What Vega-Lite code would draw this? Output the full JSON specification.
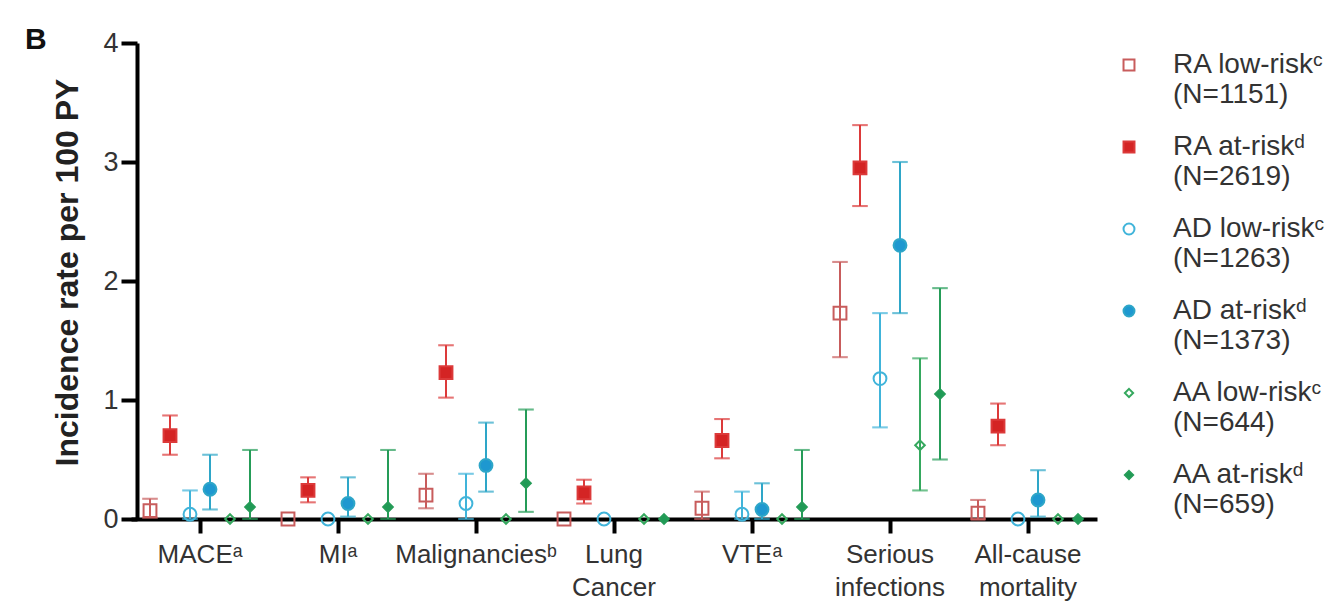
{
  "$schema": "https://vega.github.io/schema/vega-lite/v6.json",
  "width": 966,
  "height": 476,
  "autosize": {"type": "none"},
  "padding": {"left": 131, "top": 43, "right": 240, "bottom": 83},
  "background": "white",
  "config": {
    "font": "Liberation Sans",
    "view": {"stroke": null},
    "legend": {
      "orient": "none", "legendX": 984, "legendY": 8, "title": null,
      "labelFontSize": 28, "labelColor": "#333", "symbolSize": 120, "symbolStrokeWidth": 2, "symbolOpacity": 1,
      "rowPadding": 24, "labelOffset": 30, "labelLimit": 300, "labelLineHeight": 31
    }
  },
  "title": {"text": "B", "anchor": "start", "frame": "group", "fontSize": 30, "fontWeight": "bold", "color": "#111", "dx": -106, "offset": -26},
  "datasets": {
    "rates": [
      {"cat": "MACEᵃ", "series": "RA low-riskᶜ (N=1151)", "rate": 0.07, "lo": 0.01, "hi": 0.17},
      {"cat": "MACEᵃ", "series": "RA at-riskᵈ (N=2619)", "rate": 0.70, "lo": 0.54, "hi": 0.87},
      {"cat": "MACEᵃ", "series": "AD low-riskᶜ (N=1263)", "rate": 0.04, "lo": 0.0, "hi": 0.24},
      {"cat": "MACEᵃ", "series": "AD at-riskᵈ (N=1373)", "rate": 0.25, "lo": 0.08, "hi": 0.54},
      {"cat": "MACEᵃ", "series": "AA low-riskᶜ (N=644)", "rate": 0, "lo": 0, "hi": 0},
      {"cat": "MACEᵃ", "series": "AA at-riskᵈ (N=659)", "rate": 0.10, "lo": 0.0, "hi": 0.58},
      {"cat": "MIᵃ", "series": "RA low-riskᶜ (N=1151)", "rate": 0, "lo": 0, "hi": 0},
      {"cat": "MIᵃ", "series": "RA at-riskᵈ (N=2619)", "rate": 0.24, "lo": 0.14, "hi": 0.35},
      {"cat": "MIᵃ", "series": "AD low-riskᶜ (N=1263)", "rate": 0, "lo": 0, "hi": 0},
      {"cat": "MIᵃ", "series": "AD at-riskᵈ (N=1373)", "rate": 0.13, "lo": 0.02, "hi": 0.35},
      {"cat": "MIᵃ", "series": "AA low-riskᶜ (N=644)", "rate": 0, "lo": 0, "hi": 0},
      {"cat": "MIᵃ", "series": "AA at-riskᵈ (N=659)", "rate": 0.10, "lo": 0.0, "hi": 0.58},
      {"cat": "Malignanciesᵇ", "series": "RA low-riskᶜ (N=1151)", "rate": 0.20, "lo": 0.09, "hi": 0.38},
      {"cat": "Malignanciesᵇ", "series": "RA at-riskᵈ (N=2619)", "rate": 1.23, "lo": 1.02, "hi": 1.46},
      {"cat": "Malignanciesᵇ", "series": "AD low-riskᶜ (N=1263)", "rate": 0.13, "lo": 0.0, "hi": 0.38},
      {"cat": "Malignanciesᵇ", "series": "AD at-riskᵈ (N=1373)", "rate": 0.45, "lo": 0.23, "hi": 0.81},
      {"cat": "Malignanciesᵇ", "series": "AA low-riskᶜ (N=644)", "rate": 0, "lo": 0, "hi": 0},
      {"cat": "Malignanciesᵇ", "series": "AA at-riskᵈ (N=659)", "rate": 0.30, "lo": 0.06, "hi": 0.92},
      {"cat": "Lung Cancer", "series": "RA low-riskᶜ (N=1151)", "rate": 0, "lo": 0, "hi": 0},
      {"cat": "Lung Cancer", "series": "RA at-riskᵈ (N=2619)", "rate": 0.22, "lo": 0.13, "hi": 0.33},
      {"cat": "Lung Cancer", "series": "AD low-riskᶜ (N=1263)", "rate": 0, "lo": 0, "hi": 0},
      {"cat": "Lung Cancer", "series": "AA low-riskᶜ (N=644)", "rate": 0, "lo": 0, "hi": 0},
      {"cat": "Lung Cancer", "series": "AA at-riskᵈ (N=659)", "rate": 0, "lo": 0, "hi": 0},
      {"cat": "VTEᵃ", "series": "RA low-riskᶜ (N=1151)", "rate": 0.09, "lo": 0.0, "hi": 0.23},
      {"cat": "VTEᵃ", "series": "RA at-riskᵈ (N=2619)", "rate": 0.66, "lo": 0.51, "hi": 0.84},
      {"cat": "VTEᵃ", "series": "AD low-riskᶜ (N=1263)", "rate": 0.04, "lo": 0.0, "hi": 0.23},
      {"cat": "VTEᵃ", "series": "AD at-riskᵈ (N=1373)", "rate": 0.08, "lo": 0.0, "hi": 0.30},
      {"cat": "VTEᵃ", "series": "AA low-riskᶜ (N=644)", "rate": 0, "lo": 0, "hi": 0},
      {"cat": "VTEᵃ", "series": "AA at-riskᵈ (N=659)", "rate": 0.10, "lo": 0.0, "hi": 0.58},
      {"cat": "Serious infections", "series": "RA low-riskᶜ (N=1151)", "rate": 1.73, "lo": 1.36, "hi": 2.16},
      {"cat": "Serious infections", "series": "RA at-riskᵈ (N=2619)", "rate": 2.95, "lo": 2.63, "hi": 3.31},
      {"cat": "Serious infections", "series": "AD low-riskᶜ (N=1263)", "rate": 1.18, "lo": 0.77, "hi": 1.73},
      {"cat": "Serious infections", "series": "AD at-riskᵈ (N=1373)", "rate": 2.30, "lo": 1.73, "hi": 3.00},
      {"cat": "Serious infections", "series": "AA low-riskᶜ (N=644)", "rate": 0.62, "lo": 0.24, "hi": 1.35},
      {"cat": "Serious infections", "series": "AA at-riskᵈ (N=659)", "rate": 1.05, "lo": 0.50, "hi": 1.94},
      {"cat": "All-cause mortality", "series": "RA low-riskᶜ (N=1151)", "rate": 0.05, "lo": 0.0, "hi": 0.16},
      {"cat": "All-cause mortality", "series": "RA at-riskᵈ (N=2619)", "rate": 0.78, "lo": 0.62, "hi": 0.97},
      {"cat": "All-cause mortality", "series": "AD low-riskᶜ (N=1263)", "rate": 0, "lo": 0, "hi": 0},
      {"cat": "All-cause mortality", "series": "AD at-riskᵈ (N=1373)", "rate": 0.16, "lo": 0.02, "hi": 0.41},
      {"cat": "All-cause mortality", "series": "AA low-riskᶜ (N=644)", "rate": 0, "lo": 0, "hi": 0},
      {"cat": "All-cause mortality", "series": "AA at-riskᵈ (N=659)", "rate": 0, "lo": 0, "hi": 0}
    ]
  },
  "data": {"name": "rates"},
  "encoding": {
    "x": {
      "field": "cat", "type": "nominal",
      "sort": ["MACEᵃ", "MIᵃ", "Malignanciesᵇ", "Lung Cancer", "VTEᵃ", "Serious infections", "All-cause mortality"],
      "scale": {"paddingInner": 0, "paddingOuter": 0},
      "axis": {
        "title": null, "labelAngle": 0, "domainColor": "black", "domainWidth": 4,
        "tickColor": "black", "tickWidth": 4, "tickSize": 14, "labelFontSize": 26,
        "labelColor": "#333", "labelPadding": 8, "labelLineHeight": 33,
        "labelExpr": "datum.label == 'Lung Cancer' ? ['Lung', 'Cancer'] : datum.label == 'Serious infections' ? ['Serious', 'infections'] : datum.label == 'All-cause mortality' ? ['All-cause', 'mortality'] : datum.label"
      }
    },
    "xOffset": {
      "field": "series", "type": "nominal",
      "sort": ["RA low-riskᶜ (N=1151)", "RA at-riskᵈ (N=2619)", "AD low-riskᶜ (N=1263)", "AD at-riskᵈ (N=1373)", "AA low-riskᶜ (N=644)", "AA at-riskᵈ (N=659)"],
      "scale": {"paddingInner": 0, "paddingOuter": 0.45}
    },
    "stroke": {
      "field": "series", "type": "nominal",
      "scale": {
        "domain": ["RA low-riskᶜ (N=1151)", "RA at-riskᵈ (N=2619)", "AD low-riskᶜ (N=1263)", "AD at-riskᵈ (N=1373)", "AA low-riskᶜ (N=644)", "AA at-riskᵈ (N=659)"],
        "range": ["#c85c5c", "#dc3a3a", "#40b4da", "#2ea6c8", "#35a85e", "#259c58"]
      }
    }
  },
  "layer": [
    {
      "transform": [{"filter": "datum.hi > 0"}],
      "mark": {"type": "rule", "strokeWidth": 2},
      "encoding": {
        "y": {
          "field": "lo", "type": "quantitative",
          "scale": {"domain": [0, 4], "nice": false},
          "axis": {
            "values": [0, 1, 2, 3, 4], "format": "d", "grid": false, "offset": -6,
            "domainColor": "black", "domainWidth": 4, "tickColor": "black", "tickWidth": 4, "tickSize": 16,
            "labelFontSize": 27, "labelColor": "#333", "labelPadding": 3,
            "title": "Incidence rate per 100 PY", "titleFontSize": 32, "titleFontWeight": "bold",
            "titleColor": "#222", "titlePadding": 18, "titleY": 229
          }
        },
        "y2": {"field": "hi"}
      }
    },
    {
      "transform": [{"filter": "datum.hi > 0"}],
      "mark": {"type": "tick", "thickness": 0.5, "size": 14, "filled": false, "strokeWidth": 1.6},
      "encoding": {
        "y": {"field": "hi", "type": "quantitative"}
      }
    },
    {
      "transform": [{"filter": "datum.hi > 0"}],
      "mark": {"type": "tick", "thickness": 0.5, "size": 14, "filled": false, "strokeWidth": 1.6},
      "encoding": {
        "y": {"field": "lo", "type": "quantitative"}
      }
    },
    {
      "mark": {"type": "point", "strokeWidth": 2, "opacity": 1, "size": 165},
      "encoding": {
        "y": {"field": "rate", "type": "quantitative"},
        "fill": {
          "field": "series", "type": "nominal",
          "scale": {
            "domain": ["RA low-riskᶜ (N=1151)", "RA at-riskᵈ (N=2619)", "AD low-riskᶜ (N=1263)", "AD at-riskᵈ (N=1373)", "AA low-riskᶜ (N=644)", "AA at-riskᵈ (N=659)"],
            "range": ["transparent", "#d42424", "transparent", "#1e98d0", "transparent", "#1f9a55"]
          }
        },
        "shape": {
          "field": "series", "type": "nominal",
          "scale": {
            "domain": ["RA low-riskᶜ (N=1151)", "RA at-riskᵈ (N=2619)", "AD low-riskᶜ (N=1263)", "AD at-riskᵈ (N=1373)", "AA low-riskᶜ (N=644)", "AA at-riskᵈ (N=659)"],
            "range": ["square", "square", "circle", "circle", "M0,-0.75L0.75,0L0,0.75L-0.75,0Z", "M0,-0.75L0.75,0L0,0.75L-0.75,0Z"]
          },
          "legend": {
            "labelExpr": "[slice(datum.label, 0, indexof(datum.label, ' (')), slice(datum.label, indexof(datum.label, ' (') + 1)]"
          }
        }
      }
    }
  ]
}
